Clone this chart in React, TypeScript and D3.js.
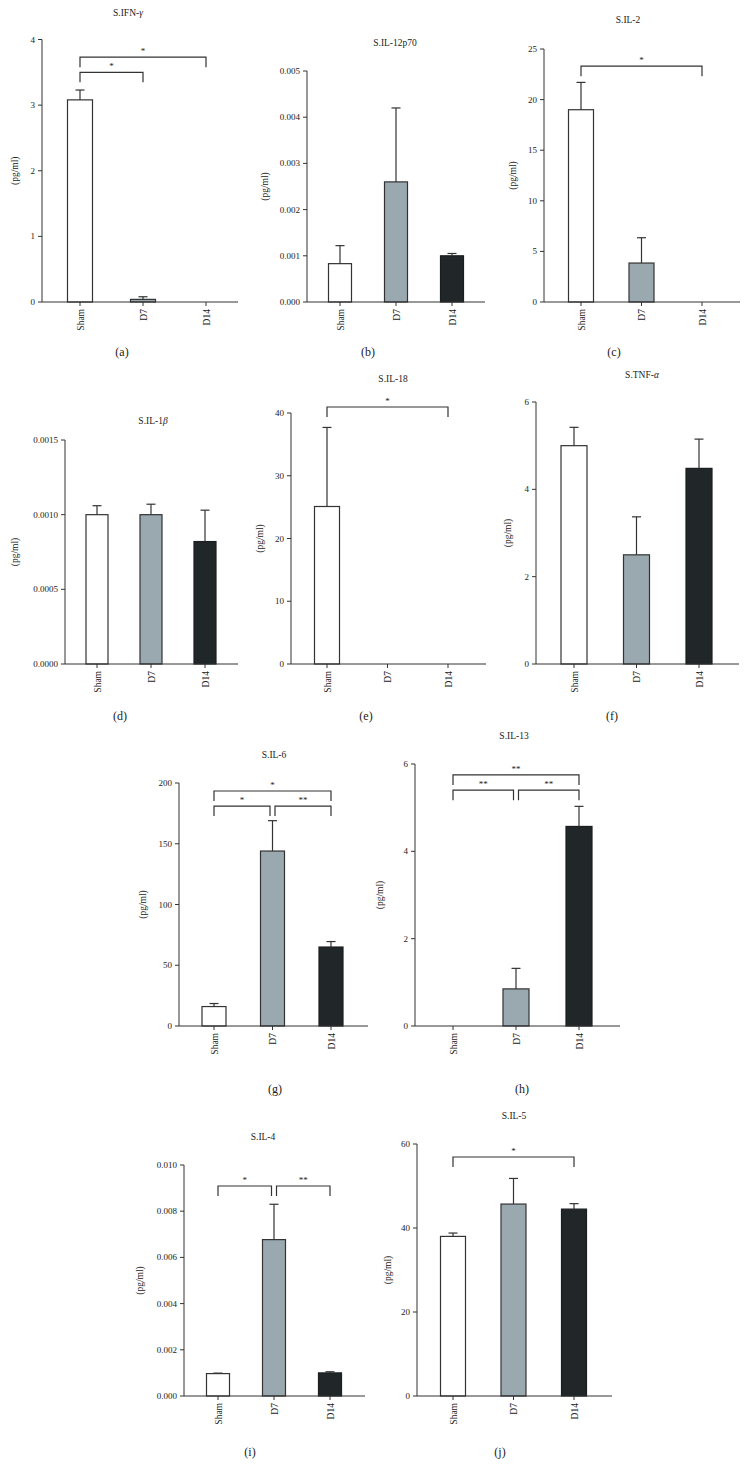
import React from "react";
import * as d3 from "d3";

// ---------- DATA ----------
const categories = ["Sham", "D7", "D14"];

const ifnValues = [3.08, 0.04, 0];
const ifnErrTop = [3.23, 0.08, 0];
const ifnTicks = [0, 1, 2, 3, 4];

const il12Values = [0.00083, 0.0026, 0.001];
const il12ErrTop = [0.00122, 0.0042, 0.00105];
const il12Ticks = [0, 0.001, 0.002, 0.003, 0.004, 0.005];

const il2Values = [19.0, 3.85, 0];
const il2ErrTop = [21.7, 6.35, 0];
const il2Ticks = [0, 5, 10, 15, 20, 25];

const il1bValues = [0.001, 0.001, 0.00082];
const il1bErrTop = [0.00106, 0.00107, 0.00103];
const il1bTicks = [0, 0.0005, 0.001, 0.0015];

const il18Values = [25.1, 0, 0];
const il18ErrTop = [37.7, 0, 0];
const il18Ticks = [0, 10, 20, 30, 40];

const tnfValues = [5.0, 2.5, 4.48];
const tnfErrTop = [5.42, 3.37, 5.15];
const tnfTicks = [0, 2, 4, 6];

const il6Values = [16, 144, 65];
const il6ErrTop = [18.5, 169, 69.5];
const il6Ticks = [0, 50, 100, 150, 200];

const il13Values = [0, 0.85, 4.57];
const il13ErrTop = [0, 1.32, 5.03];
const il13Ticks = [0, 2, 4, 6];

const il4Values = [0.00097, 0.00677, 0.001];
const il4ErrTop = [0.00099, 0.0083, 0.00105];
const il4Ticks = [0, 0.002, 0.004, 0.006, 0.008, 0.01];

const il5Values = [38.0, 45.7, 44.5];
const il5ErrTop = [38.8, 51.8, 45.8];
const il5Ticks = [0, 20, 40, 60];

// brackets: [fromIndex, toIndex, yValue, label]
const ifnBrackets: [number, number, number, string][] = [
  [0, 1, 3.5, "*"],
  [0, 2, 3.73, "*"],
];
const il2Brackets: [number, number, number, string][] = [[0, 2, 23.3, "*"]];
const il18Brackets: [number, number, number, string][] = [[0, 2, 40.96, "*"]];
const il6Brackets: [number, number, number, string][] = [
  [0, 2, 193.4, "*"],
  [0, 1, 181, "*"],
  [1, 2, 181, "**"],
];
const il13Brackets: [number, number, number, string][] = [
  [0, 2, 5.75, "**"],
  [0, 1, 5.4, "**"],
  [1, 2, 5.4, "**"],
];
const il4Brackets: [number, number, number, string][] = [
  [0, 1, 0.00909, "*"],
  [1, 2, 0.00909, "**"],
];
const il5Brackets: [number, number, number, string][] = [[0, 2, 56.9, "*"]];

// ---------- STYLE / LAYOUT ----------
const FONT = "'Liberation Serif', 'Times New Roman', serif";
const INK = "#333";
const fills = ["#ffffff", "#9aa9af", "#212628"];

type Panel = {
  title: string;
  greek?: string;
  values: number[];
  errTop: number[];
  ticks: number[];
  fmt: (v: number) => string;
  brackets: [number, number, number, string][];
  axisX: number;
  yTop: number;
  y0: number;
  xEnd: number;
  c0: number;
  c2: number;
  bw: number;
  titleX: number;
  titleY: number;
  ylabX: number;
  label: string;
  labelX: number;
  labelY: number;
};

const f0 = (v: number) => d3.format("d")(v);

const panels: Panel[] = [
  { title: "S.IFN-", greek: "γ", values: ifnValues, errTop: ifnErrTop, ticks: ifnTicks, fmt: f0, brackets: ifnBrackets,
    axisX: 42, yTop: 39.5, y0: 302, xEnd: 238, c0: 80, c2: 206, bw: 25, titleX: 128, titleY: 13, ylabX: 15, label: "(a)", labelX: 122, labelY: 352 },
  { title: "S.IL-12p70", values: il12Values, errTop: il12ErrTop, ticks: il12Ticks, fmt: d3.format(".3f"), brackets: [],
    axisX: 307, yTop: 71, y0: 302, xEnd: 485, c0: 340, c2: 452, bw: 23, titleX: 395, titleY: 43, ylabX: 265, label: "(b)", labelX: 368, labelY: 352 },
  { title: "S.IL-2", values: il2Values, errTop: il2ErrTop, ticks: il2Ticks, fmt: f0, brackets: il2Brackets,
    axisX: 544, yTop: 49, y0: 302, xEnd: 740, c0: 581, c2: 702, bw: 25, titleX: 628, titleY: 20, ylabX: 513, label: "(c)", labelX: 614, labelY: 352 },
  { title: "S.IL-1", greek: "β", values: il1bValues, errTop: il1bErrTop, ticks: il1bTicks, fmt: d3.format(".4f"), brackets: [],
    axisX: 65, yTop: 440, y0: 664, xEnd: 238, c0: 97, c2: 205, bw: 22, titleX: 153, titleY: 421, ylabX: 15, label: "(d)", labelX: 120, labelY: 716 },
  { title: "S.IL-18", values: il18Values, errTop: il18ErrTop, ticks: il18Ticks, fmt: f0, brackets: il18Brackets,
    axisX: 291, yTop: 413, y0: 664, xEnd: 486, c0: 327, c2: 448, bw: 25, titleX: 393, titleY: 379, ylabX: 260, label: "(e)", labelX: 366, labelY: 716 },
  { title: "S.TNF-", greek: "α", values: tnfValues, errTop: tnfErrTop, ticks: tnfTicks, fmt: f0, brackets: [],
    axisX: 536, yTop: 402, y0: 664, xEnd: 739, c0: 574, c2: 699, bw: 26, titleX: 642, titleY: 375, ylabX: 508, label: "(f)", labelX: 612, labelY: 716 },
  { title: "S.IL-6", values: il6Values, errTop: il6ErrTop, ticks: il6Ticks, fmt: f0, brackets: il6Brackets,
    axisX: 179, yTop: 783, y0: 1026, xEnd: 368, c0: 214, c2: 331, bw: 24, titleX: 274, titleY: 755, ylabX: 143, label: "(g)", labelX: 275, labelY: 1089 },
  { title: "S.IL-13", values: il13Values, errTop: il13ErrTop, ticks: il13Ticks, fmt: f0, brackets: il13Brackets,
    axisX: 415, yTop: 764, y0: 1026, xEnd: 620, c0: 453, c2: 579, bw: 26, titleX: 514, titleY: 736, ylabX: 380, label: "(h)", labelX: 522, labelY: 1089 },
  { title: "S.IL-4", values: il4Values, errTop: il4ErrTop, ticks: il4Ticks, fmt: d3.format(".3f"), brackets: il4Brackets,
    axisX: 184, yTop: 1165, y0: 1396, xEnd: 365, c0: 218, c2: 330, bw: 23, titleX: 263, titleY: 1137, ylabX: 140, label: "(i)", labelX: 250, labelY: 1452 },
  { title: "S.IL-5", values: il5Values, errTop: il5ErrTop, ticks: il5Ticks, fmt: f0, brackets: il5Brackets,
    axisX: 417, yTop: 1144, y0: 1396, xEnd: 612, c0: 453, c2: 574, bw: 25, titleX: 514, titleY: 1116, ylabX: 388, label: "(j)", labelX: 500, labelY: 1452 },
];

function PanelChart({ p }: { p: Panel }) {
  const yMax = p.ticks[p.ticks.length - 1];
  const y = d3.scaleLinear().domain([0, yMax]).range([p.y0, p.yTop]);
  const x = d3.scalePoint<string>().domain(categories).range([p.c0, p.c2]);
  const ylabY = (p.y0 + p.yTop) / 2;
  const cap = 4.5;
  const leg = 10;

  return (
    <g>
      <text x={p.titleX} y={p.titleY + 3} textAnchor="middle" fontSize={9.5} fontFamily={FONT} fill="#222">
        {p.title}
        {p.greek ? <tspan fontStyle="italic">{p.greek}</tspan> : null}
      </text>
      <line x1={p.axisX} x2={p.axisX} y1={p.yTop} y2={p.y0} stroke={INK} strokeWidth={1} />
      {p.ticks.map((t) => (
        <g key={t}>
          <line x1={p.axisX - 4} x2={p.axisX} y1={y(t)} y2={y(t)} stroke={INK} strokeWidth={1} />
          <text x={p.axisX - 7} y={y(t) + 3} textAnchor="end" fontSize={9} fontFamily={FONT} fill="#222">
            {p.fmt(t)}
          </text>
        </g>
      ))}
      <text
        transform={`translate(${p.ylabX},${ylabY}) rotate(-90)`}
        textAnchor="middle"
        dy={3}
        fontSize={9.5}
        fontFamily={FONT}
        fill="#222"
      >
        (pg/ml)
      </text>
      {categories.map((c, i) => {
        const cx = x(c)!;
        const v = p.values[i];
        const e = p.errTop[i];
        return (
          <g key={c}>
            {v > 0 ? (
              <rect
                x={cx - p.bw / 2}
                y={y(v)}
                width={p.bw}
                height={p.y0 - y(v)}
                fill={fills[i]}
                stroke={i === 2 ? "#1a1e20" : INK}
                strokeWidth={1.2}
              />
            ) : null}
            {e > v ? (
              <g stroke={INK} strokeWidth={1.2}>
                <line x1={cx} x2={cx} y1={y(v)} y2={y(e)} />
                <line x1={cx - cap} x2={cx + cap} y1={y(e)} y2={y(e)} />
              </g>
            ) : null}
          </g>
        );
      })}
      <line x1={p.axisX} x2={p.xEnd} y1={p.y0} y2={p.y0} stroke={INK} strokeWidth={1} />
      {categories.map((c) => (
        <g key={c}>
          <line x1={x(c)!} x2={x(c)!} y1={p.y0} y2={p.y0 + 4} stroke={INK} strokeWidth={1} />
          <text
            transform={`translate(${x(c)! + 3.5},${p.y0 + 7}) rotate(-90)`}
            textAnchor="end"
            fontSize={9.5}
            fontFamily={FONT}
            fill="#222"
          >
            {c}
          </text>
        </g>
      ))}
      {p.brackets.map(([a, b, lv, lab], k) => {
        const shared = (idx: number) =>
          p.brackets.some((o, j) => j !== k && o[2] === lv && (o[0] === idx || o[1] === idx));
        const xa = x(categories[a])! + (shared(a) ? 2.5 : 0);
        const xb = x(categories[b])! - (shared(b) ? 2.5 : 0);
        const yy = y(lv);
        return (
          <g key={k}>
            <path
              d={`M${xa},${yy + leg}V${yy}H${xb}V${yy + leg}`}
              fill="none"
              stroke={INK}
              strokeWidth={1.2}
            />
            <text x={(xa + xb) / 2} y={yy - 3} textAnchor="middle" fontSize={9} fontFamily={FONT} fill="#222">
              {lab}
            </text>
          </g>
        );
      })}
      <text x={p.labelX} y={p.labelY + 4} textAnchor="middle" fontSize={12} fontFamily={FONT} fill="#222">
        {p.label}
      </text>
    </g>
  );
}

export default function App() {
  return (
    <svg
      width={749}
      height={1473}
      viewBox="0 0 749 1473"
      style={{ position: "absolute", left: 0, top: 0, background: "#fff" }}
    >
      <rect width={749} height={1473} fill="#fff" />
      {panels.map((p) => (
        <PanelChart key={p.label} p={p} />
      ))}
    </svg>
  );
}
